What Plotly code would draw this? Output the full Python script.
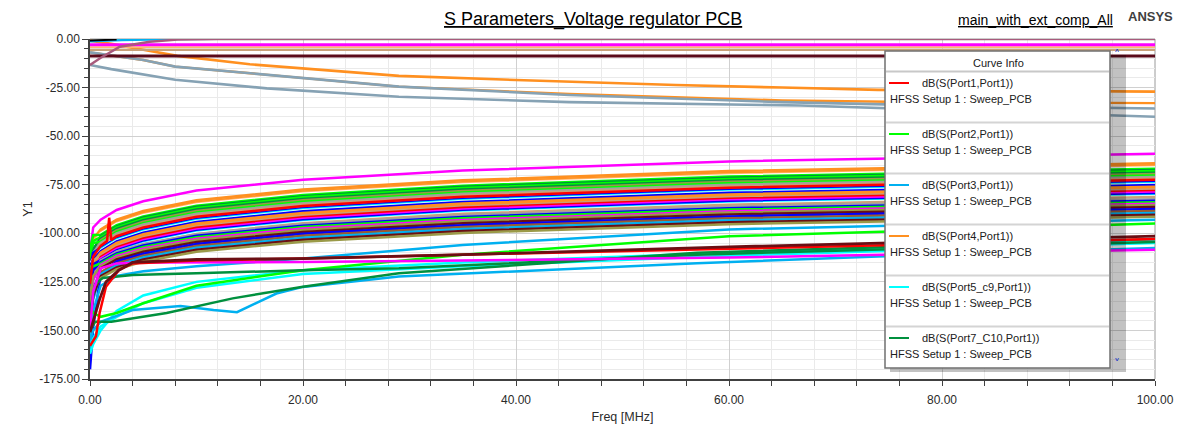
import plotly.graph_objects as go

# ---------------- data ----------------
F_STD = [0, 0.3, 1, 2.5, 5, 10, 20, 35, 60, 100]   # MHz sample points of the dense family

CLUSTER_DB = [
    [-109.5, -97.0, -93.0, -88.0, -83.5, -78.0, -72.5, -67.7, -63.0, -59.0],
    [-112.0, -103.0, -98.0, -93.0, -88.5, -83.0, -77.5, -72.7, -68.0, -64.0],
    [-118.0, -106.0, -99.0, -94.0, -89.5, -84.0, -78.5, -73.7, -69.0, -65.0],
    [-115.0, -104.0, -99.8, -94.8, -90.3, -84.8, -79.3, -74.5, -69.8, -65.8],
    [-116.0, -106.0, -100.2, -95.2, -90.7, -85.2, -79.7, -74.9, -70.2, -66.2],
    [-108.0, -101.0, -100.8, -95.8, -91.3, -85.8, -80.3, -75.5, -70.8, -66.8],
    [-125.0, -110.0, -101.4, -96.4, -91.9, -86.4, -80.9, -76.1, -71.4, -67.4],
    [-114.0, -104.0, -102.0, -97.0, -92.5, -87.0, -81.5, -76.7, -72.0, -68.0],
    [-120.0, -108.0, -102.8, -97.8, -93.3, -87.8, -82.3, -77.5, -72.8, -68.8],
    [-128.0, -112.0, -103.5, -98.5, -94.0, -88.5, -83.0, -78.2, -73.5, -69.5],
    [-110.0, -105.0, -104.3, -99.3, -94.8, -89.3, -83.8, -79.0, -74.3, -70.3],
    [-122.0, -110.0, -105.0, -100.0, -95.5, -90.0, -84.5, -79.7, -75.0, -71.0],
    [-130.0, -114.0, -105.8, -100.8, -96.3, -90.8, -85.3, -80.5, -75.8, -71.8],
    [-118.0, -110.0, -107.5, -102.5, -98.0, -92.5, -87.0, -82.2, -77.5, -73.5],
    [-135.0, -118.0, -108.3, -103.3, -98.8, -93.3, -87.8, -83.0, -78.3, -74.3],
    [-116.0, -113.0, -108.8, -103.8, -99.3, -93.8, -88.3, -83.5, -78.8, -74.8],
    [-117.0, -113.5, -109.2, -104.2, -99.7, -94.2, -88.7, -83.9, -79.2, -75.2],
    [-124.0, -115.0, -110.0, -105.0, -100.5, -95.0, -89.5, -84.7, -80.0, -76.0],
    [-132.0, -118.0, -110.8, -105.8, -101.3, -95.8, -90.3, -85.5, -80.8, -76.8],
    [-120.0, -114.0, -111.5, -106.5, -102.0, -96.5, -91.0, -86.2, -81.5, -77.5],
    [-140.0, -122.0, -112.2, -107.2, -102.7, -97.2, -91.7, -86.9, -82.2, -78.2],
    [-126.0, -118.0, -113.0, -108.0, -103.5, -98.0, -92.5, -87.7, -83.0, -79.0],
    [-122.0, -116.0, -113.8, -108.8, -104.3, -98.8, -93.3, -88.5, -83.8, -79.8],
    [-138.0, -124.0, -114.5, -109.5, -105.0, -99.5, -94.0, -89.2, -84.5, -80.5],
    [-130.0, -120.0, -114.9, -109.9, -105.4, -99.9, -94.4, -89.6, -84.9, -80.9],
    [-130.0, -120.0, -115.3, -110.3, -105.8, -100.3, -94.8, -90.0, -85.3, -81.3],
    [-134.0, -123.0, -114.0, -109.5, -105.5, -100.5, -95.3, -90.8, -86.3, -82.5],
    [-128.0, -119.0, -114.8, -110.3, -106.3, -101.3, -96.1, -91.6, -87.1, -83.3],
    [-118.0, -117.0, -115.5, -111.0, -107.0, -102.0, -96.8, -92.3, -87.8, -84.0],
    [-136.0, -124.0, -116.3, -111.8, -107.8, -102.8, -97.6, -93.1, -88.6, -84.8],
    [-132.0, -122.0, -117.0, -112.5, -108.5, -103.5, -98.3, -93.8, -89.3, -85.5],
    [-146.0, -130.0, -118.0, -113.5, -109.5, -104.5, -99.3, -94.8, -90.3, -86.5],
    [-170.0, -148.0, -121.0, -114.5, -110.5, -105.5, -100.3, -95.8, -91.3, -87.5],
    [-144.0, -130.0, -120.0, -115.5, -111.5, -106.5, -101.3, -96.8, -92.3, -88.5],
    [-150.0, -134.0, -121.0, -116.5, -112.5, -107.5, -102.3, -97.8, -93.3, -89.5],
    [-148.0, -132.0, -122.0, -117.5, -113.5, -108.5, -103.3, -98.8, -94.3, -90.5],
    [-138.0, -128.0, -123.0, -118.5, -114.5, -109.5, -104.3, -99.8, -95.3, -91.5],
]

RED_SPIKE_F = [0, 0.3, 1, 1.6, 1.8, 2.0, 2.5, 5, 10, 20, 35, 60, 100]
RED_SPIKE_DB = [-126, -112, -106.5, -104, -92, -103.5, -101.5, -97, -91.5, -86, -81.2, -76.5, -72.5]

# lower group
RED_LOW_F = [0, 0.3, 0.56, 0.9, 1.5, 2.7, 4, 10, 20, 35, 60, 100]
RED_LOW_DB = [-158, -155, -153, -141, -127.5, -119, -115.5, -114, -113, -111, -108, -103]
MAROON_FLAT_F = [0, 0.3, 0.9, 1.5, 2.7, 4, 10, 20, 35, 60, 100]
MAROON_FLAT_DB = [-151, -145, -134, -125, -119, -115, -113.5, -113, -111, -107, -101.5]
MAGENTA_FLAT_DB = [-150, -130, -118, -115.5, -115, -115, -114.8, -114, -112.5, -108.5]
SKY_A_DB = [-160, -140, -127, -122, -119.5, -117, -113, -106, -98, -93]
DKGREEN_FLAT_F = [0, 0.5, 1.2, 4, 10, 20, 29, 57, 100]
DKGREEN_FLAT_DB = [-140, -126, -123, -121.5, -120.6, -119, -118, -111, -104.5]
CYAN1_DB = [-162, -157, -150, -140, -132, -125, -119, -115, -110, -104]
CYAN2_DB = [-158, -154, -148, -143, -136, -128, -121, -117, -111.5, -105]
SKY_BUMP_F = [0, 0.3, 1, 4, 8.5, 11.6, 13.8, 17.5, 20, 29, 57, 74, 100]
SKY_BUMP_DB = [-155, -150, -145.5, -139.5, -137.4, -139.5, -140.6, -131, -127.6, -122.3, -115.4, -112, -107.6]
LIME_BUMP_DB = [-138, -141, -143, -141, -136, -127, -119, -111, -101.5, -95]
DKGREEN_BUMP_F = [0, 0.5, 2, 4.7, 7.2, 13.4, 20, 29, 57, 100]
DKGREEN_BUMP_DB = [-150, -145.5, -145.5, -143, -141, -133.5, -127.5, -120.6, -110, -103]

# top group
GREY2_F = [0, 2, 8, 16.6, 29, 45, 66.7, 80, 92, 100]
GREY2_DB = [-13.4, -15.5, -21, -25.4, -29.7, -32.5, -34.2, -36.5, -38.5, -40]
GREY1_F = [0, 2, 5, 8, 16.6, 29, 45, 65, 80, 100]
GREY1_DB = [-6.9, -8.5, -10.8, -14.2, -18.5, -24.5, -28.8, -32.5, -34.3, -35.8]
ORANGE2_F = [0, 2, 5, 8, 16.6, 29, 45, 57, 65, 75, 100]
ORANGE2_DB = [-6.9, -8.5, -10.8, -14.2, -18.5, -24.5, -28.3, -30.5, -31.6, -32.3, -33.0]
ORANGE1_F = [0, 2, 5, 8.2, 15, 19.7, 29, 40, 55, 65, 74, 100]
ORANGE1_DB = [-0.9, -2.5, -5.5, -8.7, -13, -15, -19, -21.1, -23.7, -25, -26.2, -27.1]
FLAT_F = [0, 100]
MAROON_TOP_DB = [-8.8, -8.8]
TAN1_DB = [-4.2, -4.2]
TAN2_DB = [-5.6, -5.6]
MAGENTA_TOP_DB = [-2.9, -2.9]
SKY_TOP_F = [0, 3, 8, 12]
SKY_TOP_DB = [-1.2, -0.6, -0.1, 0]
BLACK_TOP_F = [0, 1, 2.5]
BLACK_TOP_DB = [-0.8, -0.5, -0.3]
MAUVE_F = [0, 0.94, 2.8, 5.6, 8.2, 12, 100]
MAUVE_DB = [-13.4, -9.9, -4, -1.4, -0.3, 0, 0]

X_TICKS = [0, 20, 40, 60, 80, 100]
X_TICK_LABELS = ["0.00", "20.00", "40.00", "60.00", "80.00", "100.00"]
Y_TICKS = [0, -25, -50, -75, -100, -125, -150, -175]
Y_TICK_LABELS = ["0.00", "-25.00", "-50.00", "-75.00", "-100.00", "-125.00", "-150.00", "-175.00"]

LEGEND_LABELS = ["dB(S(Port1,Port1))", "dB(S(Port2,Port1))", "dB(S(Port3,Port1))",
                 "dB(S(Port4,Port1))", "dB(S(Port5_c9,Port1))", "dB(S(Port7_C10,Port1))"]
LEGEND_SETUP = "HFSS Setup 1 : Sweep_PCB"

# ---------------- styles ----------------
C = dict(red="#FF0000", lime="#00FF00", sky="#00B0F0", orange="#FF9020", cyan="#00FFFF",
         dkgreen="#00903E", blue="#0000FF", magenta="#FF00FF", tan="#C8A078", maroon="#6B0F14",
         olive="#9A9A48", grey="#A0A0A0", brown="#9A5A30", peach="#FFB870", white="#FFFFFF",
         mauve="#A85A7C", greyblue="#86A2B4", darkmaroon="#5A0A1A", black="#000000")

CLUSTER_COLORS = ["magenta", "orange", "orange", "peach", "white", "lime", "dkgreen", "lime",
                  "dkgreen", "olive", "lime", "grey", "tan", "blue", "cyan", "white", "blue",
                  "orange", "orange", "tan", "red", "magenta", "blue", "cyan", "white", "tan",
                  "grey", "blue", "lime", "magenta", "olive", "maroon", "blue", "brown", "sky",
                  "maroon", "olive"]

FONT = "Arial, 'Liberation Sans', sans-serif"
fig = go.Figure()


def add(x, y, color, width=2.5):
    fig.add_trace(go.Scatter(x=x, y=y, mode="lines", line=dict(color=C[color], width=width),
                             hoverinfo="skip", showlegend=False))


for vals, col in zip(CLUSTER_DB, CLUSTER_COLORS):
    add(F_STD, vals, col)
add(RED_SPIKE_F, RED_SPIKE_DB, "red")

add(F_STD, SKY_A_DB, "sky")
add(F_STD, CYAN2_DB, "cyan")
add(F_STD, CYAN1_DB, "cyan")
add(SKY_BUMP_F, SKY_BUMP_DB, "sky")
add(F_STD, LIME_BUMP_DB, "lime")
add(DKGREEN_BUMP_F, DKGREEN_BUMP_DB, "dkgreen")
add(DKGREEN_FLAT_F, DKGREEN_FLAT_DB, "dkgreen")
add(F_STD, MAGENTA_FLAT_DB, "magenta")
add(RED_LOW_F, RED_LOW_DB, "red")
add(MAROON_FLAT_F, MAROON_FLAT_DB, "maroon", 2.8)

add(GREY2_F, GREY2_DB, "greyblue", 2.6)
add(ORANGE2_F, ORANGE2_DB, "orange", 2.4)
add(GREY1_F, GREY1_DB, "greyblue", 2.6)
add(ORANGE1_F, ORANGE1_DB, "orange", 2.6)
add(FLAT_F, MAROON_TOP_DB, "darkmaroon", 3)
add(FLAT_F, TAN2_DB, "tan", 2.2)
add(FLAT_F, TAN1_DB, "peach", 1.6)
add(FLAT_F, MAGENTA_TOP_DB, "magenta", 3)
add(SKY_TOP_F, SKY_TOP_DB, "sky", 2.2)
add(BLACK_TOP_F, BLACK_TOP_DB, "black", 2)
add(MAUVE_F, MAUVE_DB, "mauve", 2.4)


# ---------------- layout helpers (page pixel -> paper) ----------------
# The page body has an 8px default margin, so the figure is drawn 8px smaller
# and the plot area lands on page pixels 90..1155 x 39..379.
OFF = 8
W, H = 1189 - OFF, 426 - OFF
L, R, T, B = 90, 1155, 39, 379


def px(x):
    return (x - L) / (R - L)


def py(y):
    return (B - y) / (B - T)


shapes = [
    dict(type="line", xref="paper", yref="paper", x0=1, x1=1, y0=0, y1=1,
         line=dict(color="#9A9A9A", width=1), layer="below"),
    dict(type="line", xref="paper", yref="paper", x0=0, x1=1, y0=1, y1=1,
         line=dict(color="#9A9A9A", width=1), layer="below"),
    # legend shadow / scrollbar
    dict(type="rect", xref="paper", yref="paper", x0=px(890), x1=px(1126), y0=py(372), y1=py(55),
         fillcolor="rgba(0,0,0,0.24)", line=dict(width=0), layer="above"),
    # legend box
    dict(type="rect", xref="paper", yref="paper", x0=px(885), x1=px(1110), y0=py(368), y1=py(51),
         fillcolor="white", line=dict(color="#707070", width=1.5), layer="above"),
    dict(type="line", xref="paper", yref="paper", x0=px(886), x1=px(1109), y0=py(71.5), y1=py(71.5),
         line=dict(color="#C8C8C8", width=2), layer="above"),
]
annotations = [
    dict(text="<u>S Parameters_Voltage regulator PCB</u>", x=px(593), y=py(20), xref="paper",
         yref="paper", showarrow=False, xanchor="center", yanchor="middle",
         font=dict(family=FONT, size=18, color="#000000")),
    dict(text="<u>main_with_ext_comp_All</u>", x=px(1035), y=py(20), xref="paper", yref="paper",
         showarrow=False, xanchor="center", yanchor="middle",
         font=dict(family=FONT, size=14, color="#000000")),
    dict(text="<b>ANSYS</b>", x=px(1150), y=py(16), xref="paper", yref="paper", showarrow=False,
         xanchor="center", yanchor="middle", font=dict(family=FONT, size=13, color="#404040")),
    dict(text="Curve Info", x=px(998), y=py(63), xref="paper", yref="paper", showarrow=False,
         xanchor="center", yanchor="middle", font=dict(family=FONT, size=11, color="#202020")),
    dict(text="˄", x=px(1117), y=py(55), xref="paper", yref="paper", showarrow=False,
         xanchor="center", yanchor="middle", font=dict(family="DejaVu Sans", size=12, color="#2038C8")),
    dict(text="˅", x=px(1117), y=py(364), xref="paper", yref="paper", showarrow=False,
         xanchor="center", yanchor="middle", font=dict(family="DejaVu Sans", size=12, color="#2038C8")),
]
LEGEND_COLORS = ["red", "lime", "sky", "orange", "cyan", "dkgreen"]
for i, (lab, col) in enumerate(zip(LEGEND_LABELS, LEGEND_COLORS)):
    y0 = 83 + 51 * i
    shapes.append(dict(type="line", xref="paper", yref="paper", x0=px(889), x1=px(909),
                       y0=py(y0), y1=py(y0), line=dict(color=C[col], width=2), layer="above"))
    annotations.append(dict(text=lab, x=px(920), y=py(y0), xref="paper", yref="paper",
                            showarrow=False, xanchor="left", yanchor="middle",
                            font=dict(family=FONT, size=11, color="#202020")))
    annotations.append(dict(text=LEGEND_SETUP, x=px(888), y=py(y0 + 16), xref="paper",
                            yref="paper", showarrow=False, xanchor="left", yanchor="middle",
                            font=dict(family=FONT, size=11, color="#202020")))
    if i < len(LEGEND_LABELS) - 1:
        ys = 122.5 + 51 * i
        shapes.append(dict(type="line", xref="paper", yref="paper", x0=px(886), x1=px(1109),
                           y0=py(ys), y1=py(ys), line=dict(color="#D4D4D4", width=2), layer="above"))

fig.update_layout(
    width=W, height=H,
    margin=dict(l=L - OFF, r=1189 - R, t=T - OFF, b=426 - B, autoexpand=False),
    paper_bgcolor="white", plot_bgcolor="white",
    showlegend=False,
    shapes=shapes, annotations=annotations,
    xaxis=dict(range=[0, 100], tickvals=X_TICKS, ticktext=X_TICK_LABELS, automargin=False,
               showgrid=True, gridcolor="#D0D0D0", gridwidth=1,
               ticks="outside", ticklen=5, tickcolor="#404040", ticklabelstandoff=4,
               showline=True, linecolor="#404040", linewidth=1.5, zeroline=False,
               minor=dict(dtick=4, tick0=0, showgrid=True, gridcolor="#EAEAEA", ticks="outside",
                          ticklen=5, tickcolor="#404040"),
               tickfont=dict(family=FONT, size=12, color="#2A2A2A"),
               title=dict(text="Freq [MHz]", font=dict(family=FONT, size=12.5, color="#2A2A2A"),
                          standoff=6)),
    yaxis=dict(range=[-175, 0], tickvals=Y_TICKS, ticktext=Y_TICK_LABELS, automargin=False,
               showgrid=True, gridcolor="#D0D0D0", gridwidth=1,
               ticks="outside", ticklen=6, tickcolor="#404040",
               showline=True, linecolor="#404040", linewidth=1.5, zeroline=False,
               minor=dict(dtick=5, tick0=0, showgrid=True, gridcolor="#EAEAEA", ticks="outside",
                          ticklen=4, tickcolor="#404040"),
               tickfont=dict(family=FONT, size=12, color="#2A2A2A"),
               title=dict(text="Y1", font=dict(family=FONT, size=12.5, color="#2A2A2A"),
                          standoff=4)),
)

fig.write_html("out.html")
